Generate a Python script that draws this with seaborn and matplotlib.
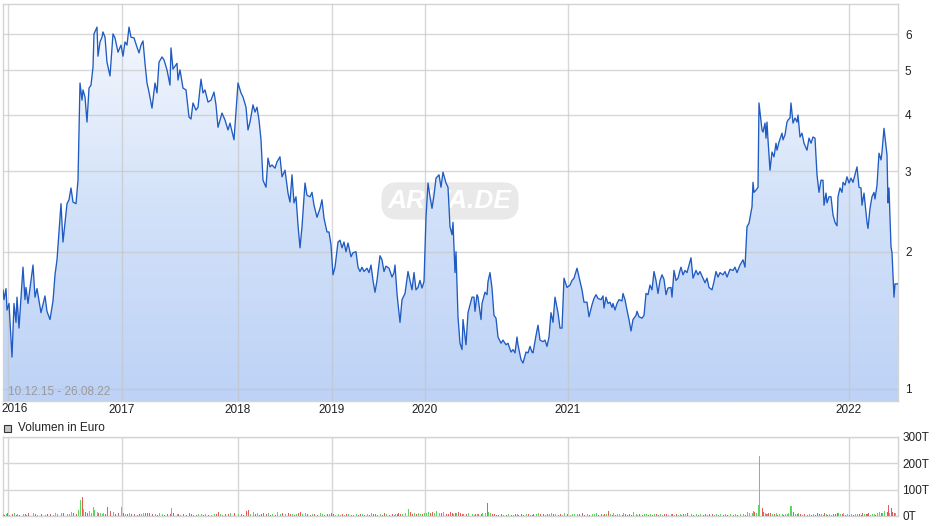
import numpy as np
import pandas as pd
import matplotlib
matplotlib.use('Agg')
import matplotlib.pyplot as plt
from matplotlib.colors import LinearSegmentedColormap
from matplotlib.patches import PathPatch, Rectangle
from matplotlib.ticker import NullLocator
from matplotlib.transforms import blended_transform_factory
import seaborn as sns

# trading session index (only days with a quote), price in EUR, volume in thousand EUR
session = [
    0, 1, 3, 4, 6, 9, 11, 13, 14, 16,
    20, 22, 23, 25, 30, 32, 34, 38, 42, 44,
    47, 50, 52, 54, 58, 60, 64, 66, 68, 70,
    73, 75, 77, 79, 80, 82, 84, 86, 88, 90,
    91, 94, 95, 97, 99, 100, 102, 104, 107, 110,
    112, 115, 118, 120, 122, 124, 126, 128, 131, 134,
    136, 138, 140, 142, 144, 146, 149, 152, 154, 156,
    159, 161, 164, 167, 168, 170, 174, 175, 177, 180,
    183, 186, 188, 190, 193, 195, 198, 200, 202, 205,
    208, 211, 213, 215, 217, 219, 222, 225, 227, 231,
    235, 238, 240, 243, 245, 247, 250, 252, 254, 256,
    258, 260, 263, 265, 267, 269, 272, 274, 277, 279,
    282, 285, 287, 289, 291, 293, 295, 297, 299, 302,
    304, 307, 309, 311, 314, 317, 319, 321, 324, 326,
    328, 330, 332, 335, 337, 339, 341, 343, 345, 348,
    350, 353, 355, 357, 359, 361, 364, 366, 368, 370,
    372, 374, 377, 379, 381, 383, 386, 389, 391, 392,
    394, 395, 397, 399, 402, 405, 407, 409, 411, 413,
    415, 417, 419, 421, 423, 425, 427, 429, 431, 433,
    436, 438, 440, 443, 445, 447, 449, 450, 452, 453,
    455, 457, 459, 460, 463, 465, 469, 471, 472, 474,
    475, 478, 479, 482, 484, 485, 487, 489, 491, 493,
    495, 498, 500, 503, 505, 508, 510, 512, 514, 515,
    518, 520, 523, 525, 527, 529, 530, 533, 535, 537,
    540, 542, 544, 546, 548, 550, 552, 555, 557, 559,
    561, 564, 567, 569, 571, 574, 576, 579, 581, 584,
    586, 589, 591, 593, 595, 598, 600, 601, 603, 605,
    607, 609, 610, 612, 614, 616, 619, 620, 622, 624,
    626, 628, 630, 633, 634, 636, 639, 641, 643, 645,
    647, 649, 651, 653, 655, 657, 659, 661, 663, 665,
    668, 669, 671, 673, 675, 677, 678, 680, 682, 684,
    688, 690, 693, 695, 697, 700, 702, 704, 706, 709,
    711, 713, 715, 717, 720, 722, 724, 727, 730, 732,
    734, 737, 740, 742, 744, 746, 749, 750, 751, 753,
    755, 756, 759, 760, 762, 763, 764, 765, 767, 769,
    771, 773, 774, 776, 779, 780, 782, 784, 785, 787,
    788, 790, 792, 794, 795, 797, 799, 801, 804, 806,
    808, 810, 812, 814, 816, 818, 820, 821, 823, 824,
    826, 828, 830, 832, 834, 835, 837, 839, 840, 842,
    844, 846, 848, 850, 852, 854, 856, 858, 859, 861,
    863, 864, 865, 867, 869, 871, 872, 874, 876, 878,
    879, 881, 884, 885, 886, 888, 889, 891, 892, 895,
]

price = [
    1.65, 1.57, 1.66, 1.49, 1.54, 1.175, 1.54, 1.40, 1.59, 1.36,
    1.85, 1.57, 1.67, 1.54, 1.87, 1.59, 1.66, 1.47, 1.60, 1.48,
    1.42, 1.56, 1.78, 1.92, 2.55, 2.10, 2.55, 2.60, 2.76, 2.57,
    2.55, 2.87, 4.69, 4.30, 4.53, 4.37, 3.85, 4.57, 4.64, 5.08,
    6.01, 6.22, 5.37, 5.77, 5.91, 6.07, 5.91, 5.21, 4.86, 6.01,
    5.89, 5.48, 5.68, 5.37, 5.77, 5.68, 6.22, 5.91, 5.89, 5.62,
    5.46, 5.68, 5.80, 5.18, 4.69, 4.48, 4.13, 4.69, 4.46, 5.21,
    5.35, 5.27, 5.01, 4.64, 5.60, 5.03, 5.18, 4.76, 5.01, 4.57,
    4.53, 3.95, 3.91, 4.24, 4.09, 4.15, 4.78, 4.46, 4.53, 4.26,
    4.30, 4.48, 4.20, 3.75, 3.89, 4.03, 3.89, 3.70, 3.83, 3.52,
    4.69, 4.46, 4.37, 4.15, 3.70, 3.85, 4.20, 4.05, 4.15, 3.89,
    3.52, 2.87, 2.77, 3.21, 3.07, 3.10, 3.05, 3.15, 3.23, 2.92,
    3.02, 2.69, 2.57, 2.95, 2.56, 2.64, 2.29, 2.04, 2.27, 2.83,
    2.66, 2.64, 2.70, 2.53, 2.38, 2.49, 2.60, 2.37, 2.21, 2.21,
    2.07, 1.78, 1.85, 2.10, 2.12, 2.04, 2.10, 2.00, 2.09, 1.95,
    1.99, 2.00, 1.85, 1.81, 1.85, 1.81, 1.84, 1.80, 1.87, 1.73,
    1.63, 1.73, 1.96, 1.92, 1.81, 1.86, 1.84, 1.76, 1.80, 1.87,
    1.62, 1.54, 1.40, 1.57, 1.62, 1.81, 1.73, 1.65, 1.80, 1.65,
    1.67, 1.73, 1.665, 1.72, 2.38, 2.83, 2.64, 2.49, 2.66, 2.90,
    2.95, 2.77, 2.99, 2.83, 2.77, 2.27, 2.18, 2.32, 1.80, 2.00,
    1.44, 1.26, 1.22, 1.42, 1.25, 1.47, 1.59, 1.59, 1.48, 1.61,
    1.59, 1.42, 1.54, 1.63, 1.61, 1.72, 1.80, 1.665, 1.45, 1.43,
    1.30, 1.26, 1.28, 1.25, 1.26, 1.205, 1.22, 1.20, 1.30, 1.25,
    1.16, 1.14, 1.205, 1.20, 1.24, 1.205, 1.20, 1.31, 1.38, 1.28,
    1.27, 1.28, 1.24, 1.30, 1.47, 1.40, 1.59, 1.47, 1.36, 1.36,
    1.75, 1.67, 1.69, 1.73, 1.75, 1.84, 1.76, 1.65, 1.55, 1.55,
    1.44, 1.53, 1.58, 1.61, 1.58, 1.57, 1.60, 1.505, 1.59, 1.54,
    1.55, 1.51, 1.54, 1.49, 1.54, 1.57, 1.56, 1.62, 1.57, 1.49,
    1.42, 1.34, 1.42, 1.45, 1.48, 1.44, 1.43, 1.45, 1.62, 1.61,
    1.69, 1.65, 1.81, 1.73, 1.62, 1.73, 1.78, 1.74, 1.61, 1.665,
    1.67, 1.59, 1.82, 1.73, 1.75, 1.82, 1.85, 1.78, 1.82, 1.80,
    1.94, 1.75, 1.82, 1.78, 1.81, 1.75, 1.71, 1.75, 1.67, 1.65,
    1.72, 1.81, 1.76, 1.80, 1.78, 1.81, 1.76, 1.83, 1.82, 1.85,
    1.80, 1.87, 1.92, 1.85, 2.27, 2.31, 2.51, 2.84, 2.70, 2.73,
    2.77, 4.24, 3.70, 3.66, 3.83, 3.55, 3.85, 3.52, 3.02, 3.31,
    3.23, 3.46, 3.34, 3.48, 3.64, 3.52, 3.61, 3.85, 3.89, 3.93,
    4.24, 3.83, 3.93, 3.85, 3.99, 3.57, 3.64, 3.46, 3.34, 3.55,
    3.46, 3.57, 3.55, 2.95, 2.70, 2.87, 2.87, 2.53, 2.69, 2.56,
    2.64, 2.64, 2.41, 2.32, 2.28, 2.64, 2.76, 2.70, 2.84, 2.80,
    2.92, 2.83, 2.90, 2.84, 2.95, 3.07, 2.77, 2.76, 2.53, 2.69,
    2.43, 2.32, 2.25, 2.49, 2.64, 2.70, 2.61, 2.80, 3.29, 3.18,
    3.31, 3.73, 3.26, 2.56, 2.76, 2.05, 1.99, 1.59, 1.70, 1.70,
]

volume = [
    6, 4, 8, 10, 4, 6, 10, 4, 6, 4,
    8, 6, 4, 10, 12, 6, 4, 6, 4, 8,
    6, 4, 10, 8, 10, 12, 8, 6, 16, 10,
    8, 22, 60, 72, 26, 16, 12, 20, 10, 35,
    24, 16, 12, 10, 8, 12, 6, 33, 20, 16,
    8, 10, 33, 12, 8, 6, 10, 8, 6, 4,
    6, 8, 12, 12, 10, 10, 8, 6, 4, 10,
    6, 4, 8, 6, 30, 12, 8, 6, 4, 6,
    4, 10, 6, 4, 4, 6, 8, 4, 6, 4,
    4, 6, 8, 16, 6, 4, 6, 8, 12, 10,
    8, 6, 4, 19, 22, 8, 16, 6, 10, 4,
    8, 12, 6, 10, 4, 6, 4, 16, 8, 12,
    6, 10, 8, 6, 4, 8, 12, 16, 8, 10,
    6, 4, 8, 6, 4, 12, 6, 4, 8, 6,
    10, 6, 4, 8, 4, 6, 4, 8, 6, 4,
    4, 6, 4, 8, 6, 4, 6, 4, 10, 6,
    8, 4, 6, 4, 10, 6, 4, 8, 4, 6,
    6, 10, 8, 6, 12, 26, 16, 8, 12, 6,
    10, 8, 6, 10, 10, 14, 12, 16, 12, 18,
    12, 10, 16, 8, 6, 16, 12, 8, 10, 12,
    16, 10, 8, 6, 6, 10, 8, 4, 6, 8,
    6, 8, 13, 12, 51, 16, 10, 6, 8, 4,
    4, 6, 4, 4, 6, 4, 4, 6, 8, 4,
    6, 4, 8, 6, 4, 4, 6, 8, 10, 6,
    8, 4, 6, 8, 10, 6, 8, 4, 6, 4,
    10, 6, 4, 9, 6, 8, 6, 10, 4, 6,
    4, 6, 8, 10, 4, 6, 4, 8, 6, 18,
    6, 4, 10, 4, 8, 6, 4, 12, 6, 4,
    6, 4, 16, 6, 4, 8, 4, 6, 8, 4,
    6, 4, 8, 6, 4, 6, 4, 8, 6, 4,
    6, 8, 4, 6, 4, 6, 4, 8, 6, 10,
    6, 4, 8, 4, 6, 4, 6, 4, 8, 6,
    4, 6, 4, 8, 4, 6, 4, 6, 4, 6,
    4, 8, 6, 4, 16, 12, 10, 18, 16, 12,
    41, 227, 29, 16, 10, 8, 6, 12, 10, 8,
    6, 10, 4, 8, 6, 4, 6, 8, 10, 37,
    37, 16, 8, 6, 10, 6, 4, 8, 4, 6,
    4, 6, 4, 12, 8, 6, 4, 10, 6, 4,
    6, 4, 8, 6, 12, 10, 8, 6, 10, 4,
    6, 4, 8, 4, 6, 8, 6, 4, 10, 6,
    8, 6, 10, 4, 8, 6, 4, 10, 16, 12,
    12, 20, 16, 41, 12, 29, 15, 10, 12, 8,
]

year_pos = [5, 119, 235, 329, 422, 565, 846]
year_labels = ['2016', '2017', '2018', '2019', '2020', '2021', '2022']
price_ticks = [1, 2, 3, 4, 5, 6]
vol_ticks = [0, 100, 200, 300]
vol_labels = ['0T', '100T', '200T', '300T']
date_range = '10.12.15 - 26.08.22'
vol_title = 'Volumen in Euro'
watermark = 'ARIVA.DE'

df = pd.DataFrame({'session': session, 'price': price, 'volume': volume})
df['dir'] = np.where(df['price'].diff().fillna(0) >= 0, 'up', 'down')

sns.set_theme(style='white')
plt.rcParams['font.family'] = ['Liberation Sans', 'DejaVu Sans']

grid_c = '#d6d6d6'
spine_c = '#d4d4d4'
vol_colors = {'up': '#5ad85a', 'down': '#e35d5d'}
x_max = 895
y_lo, y_hi = 0.941, 6.99

fig = plt.figure(figsize=(9.4, 5.26), dpi=100)
ax = fig.add_axes([3 / 940, 1 - 401 / 526, 895 / 940, 397 / 526])
axv = fig.add_axes([3 / 940, 1 - 516 / 526, 895 / 940, 79 / 526])

# price chart
ax.set_yscale('log')

# gradient area under the line
area = ax.fill_between(df['session'], df['price'], y_lo, color='none', lw=0)
clip = PathPatch(area.get_paths()[0], transform=ax.transData, facecolor='none', edgecolor='none')
ax.add_patch(clip)
cmap = LinearSegmentedColormap.from_list('arv', ['#bdd2f6', '#d3e2f9', '#f8fafe'])
grad = np.linspace(0, 1, 256).reshape(-1, 1)
img = ax.imshow(grad, extent=[0, 1, 0, 1], transform=ax.transAxes, origin='lower',
                aspect='auto', cmap=cmap, zorder=2)
img.set_clip_path(clip)

sns.lineplot(data=df, x='session', y='price', ax=ax, color='#1f5bc2', lw=0.95, zorder=4)

ax.set_xlim(0, x_max)
ax.set_ylim(y_lo, y_hi)
ax.set_xlabel('')
ax.set_ylabel('')
ax.yaxis.tick_right()
ax.set_yticks(price_ticks, [str(t) for t in price_ticks])
ax.yaxis.set_minor_locator(NullLocator())
# first year label sits at the very left edge, drawn separately so it stays inside
ax.set_xticks(year_pos, [''] + year_labels[1:])
ax.tick_params(axis='both', length=0, labelsize=8.5, colors='#222222')
ax.tick_params(axis='y', pad=5)
ax.tick_params(axis='x', pad=2)
ax.text(-2, -0.005, year_labels[0], transform=blended_transform_factory(ax.transData, ax.transAxes),
        ha='left', va='top', fontsize=8.5, color='#222222', clip_on=False)
ax.set_axisbelow(False)
ax.grid(True, color='#c4c4c4', alpha=0.65, lw=1)
for s in ax.spines.values():
    s.set_color(spine_c)
    s.set_linewidth(1)

ax.text(447 / 895, 0.504, watermark, transform=ax.transAxes, ha='center', va='center',
        fontsize=19, fontstyle='italic', fontweight='bold', color='white', zorder=1,
        bbox=dict(boxstyle='round,pad=0.25,rounding_size=0.6', fc='#e9e9e9', ec='none'))
ax.text(0.006, 0.008, date_range, transform=ax.transAxes, ha='left', va='bottom',
        fontsize=8.5, color='#9a9a9a', zorder=5)

# volume chart, one crisp 1px stroke per session
axv.vlines(df['session'], 0, df['volume'], colors=df['dir'].map(vol_colors).tolist(),
           lw=0.72, antialiased=False, zorder=3)
axv.set_xlim(0, x_max)
axv.set_ylim(0, 300)
axv.yaxis.tick_right()
axv.set_yticks(vol_ticks, vol_labels)
axv.set_xticks(year_pos, [''] * len(year_pos))
axv.tick_params(axis='both', length=0, labelsize=8.5, colors='#222222')
axv.tick_params(axis='y', pad=3)
axv.set_axisbelow(True)
axv.grid(True, color=grid_c, lw=1)
for s in axv.spines.values():
    s.set_color(spine_c)
    s.set_linewidth(1)

fig.add_artist(Rectangle((4 / 940, 1 - 432 / 526), 7 / 940, 7 / 526, transform=fig.transFigure,
                         facecolor='#c6c6c6', edgecolor='#333333', lw=0.8))
fig.text(18 / 940, 1 - 428 / 526, vol_title, ha='left', va='center', fontsize=8.5, color='#222222')

fig.savefig('out.png', dpi=100)
